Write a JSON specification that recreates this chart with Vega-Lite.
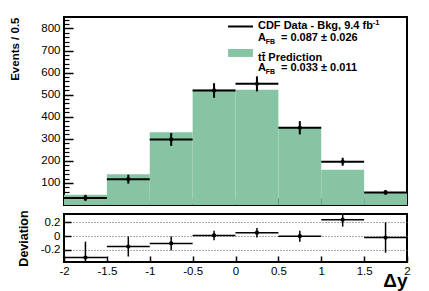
{
  "$schema": "https://vega.github.io/schema/vega-lite/v6.json",
  "background": "white",
  "padding": {"left": 8, "top": 15, "right": 18, "bottom": 3},
  "spacing": 1,
  "config": {
    "font": "Liberation Sans",
    "view": {"stroke": "black", "strokeWidth": 2},
    "axis": {"domain": false, "grid": false, "tickColor": "black", "labelColor": "black", "titleColor": "black", "labelFont": "Liberation Sans", "labelFontSize": 11.5, "titleFont": "Liberation Sans", "titleFontWeight": "bold", "tickWidth": 1.5, "labelOverlap": false, "tickCount": 100}
  },
  "datasets": {
    "hist": [
      {"lo": -2, "hi": -1.5, "mid": -1.75, "pred": 46, "obs": 32, "err": 14},
      {"lo": -1.5, "hi": -1, "mid": -1.25, "pred": 139, "obs": 117, "err": 20},
      {"lo": -1, "hi": -0.5, "mid": -0.75, "pred": 330, "obs": 297, "err": 29},
      {"lo": -0.5, "hi": 0, "mid": -0.25, "pred": 523, "obs": 519, "err": 33},
      {"lo": 0, "hi": 0.5, "mid": 0.25, "pred": 522, "obs": 549, "err": 34},
      {"lo": 0.5, "hi": 1, "mid": 0.75, "pred": 352, "obs": 350, "err": 30},
      {"lo": 1, "hi": 1.5, "mid": 1.25, "pred": 160, "obs": 196, "err": 18},
      {"lo": 1.5, "hi": 2, "mid": 1.75, "pred": 58, "obs": 57, "err": 11}
    ],
    "dev": [
      {"lo": -2, "hi": -1.5, "mid": -1.75, "dev": -0.31, "err": 0.23},
      {"lo": -1.5, "hi": -1, "mid": -1.25, "dev": -0.15, "err": 0.145},
      {"lo": -1, "hi": -0.5, "mid": -0.75, "dev": -0.105, "err": 0.1},
      {"lo": -0.5, "hi": 0, "mid": -0.25, "dev": 0.01, "err": 0.068},
      {"lo": 0, "hi": 0.5, "mid": 0.25, "dev": 0.05, "err": 0.068},
      {"lo": 0.5, "hi": 1, "mid": 0.75, "dev": 0.0, "err": 0.08},
      {"lo": 1, "hi": 1.5, "mid": 1.25, "dev": 0.24, "err": 0.1},
      {"lo": 1.5, "hi": 2, "mid": 1.75, "dev": -0.02, "err": 0.22}
    ]
  },
  "vconcat": [
    {
      "width": 343,
      "height": 188,
      "resolve": {"scale": {"y": "independent"}, "axis": {"y": "independent"}},
      "layer": [
        {
          "data": {"name": "hist"},
          "mark": {"type": "rule", "opacity": 0},
          "encoding": {
            "x": {"field": "lo", "type": "quantitative", "title": null, "scale": {"domain": [-2, 2], "nice": false, "zero": false},
              "axis": {"labels": false, "tickSize": -7, "tickCount": 100, "values": [-1.5, -1, -0.5, 0, 0.5, 1, 1.5]}},
            "y": {"field": "pred", "type": "quantitative", "title": null, "scale": {"domain": [0, 852], "nice": false},
              "axis": {"orient": "left", "labels": false, "tickSize": -5, "tickWidth": 1.2, "tickCount": 100,
                "values": [20, 40, 60, 80, 120, 140, 160, 180, 220, 240, 260, 280, 320, 340, 360, 380, 420, 440, 460, 480, 520, 540, 560, 580, 620, 640, 660, 680, 720, 740, 760, 780, 820, 840]}}
          }
        },
        {
          "layer": [
            {
              "data": {"name": "hist"},
              "mark": {"type": "rect", "color": "#86c4a4"},
              "encoding": {
                "x": {"field": "lo", "type": "quantitative", "title": null},
                "x2": {"field": "hi"},
                "y": {"field": "pred", "type": "quantitative", "title": "Events / 0.5", "scale": {"domain": [0, 852], "nice": false},
                  "axis": {"orient": "left", "titleFontSize": 11.5, "titleAnchor": "end", "titlePadding": 20, "tickCount": 100,
                    "values": [100, 200, 300, 400, 500, 600, 700, 800], "labelOverlap": false,
                    "labelExpr": "'' + datum.value", "tickSize": -9, "labelPadding": 13}},
                "y2": {"datum": 0}
              }
            },
            {
              "data": {"name": "hist"},
              "mark": {"type": "rule", "color": "black", "strokeWidth": 2},
              "encoding": {
                "x": {"field": "lo", "type": "quantitative", "title": null},
                "x2": {"field": "hi"},
                "y": {"field": "obs", "type": "quantitative", "title": "Events / 0.5"}
              }
            },
            {
              "data": {"name": "hist"},
              "mark": {"type": "errorbar", "color": "black", "thickness": 2},
              "encoding": {
                "x": {"field": "mid", "type": "quantitative", "title": null},
                "y": {"field": "obs", "type": "quantitative", "title": "Events / 0.5"},
                "yError": {"field": "err"}
              }
            },
            {
              "data": {"name": "hist"},
              "mark": {"type": "point", "filled": true, "color": "black", "size": 18, "opacity": 1},
              "encoding": {
                "x": {"field": "mid", "type": "quantitative", "title": null},
                "y": {"field": "obs", "type": "quantitative", "title": "Events / 0.5"}
              }
            },
            {
              "data": {"values": [{"k": "line"}]},
              "mark": {"type": "rule", "color": "black", "strokeWidth": 2},
              "encoding": {
                "x": {"datum": -0.087, "type": "quantitative", "title": null},
                "x2": {"datum": 0.204},
                "y": {"datum": 809, "type": "quantitative", "title": "Events / 0.5"}
              }
            },
            {
              "data": {"values": [{"k": "box"}]},
              "mark": {"type": "rect", "color": "#86c4a4"},
              "encoding": {
                "x": {"datum": -0.087, "type": "quantitative", "title": null},
                "x2": {"datum": 0.204},
                "y": {"datum": 707, "type": "quantitative", "title": "Events / 0.5"},
                "y2": {"datum": 671}
              }
            },
            {
              "data": {"values": [{"t": "CDF Data - Bkg, 9.4  fb", "u": 809}, {"t": "t\u0074\u0304 Prediction", "u": 668}]},
              "mark": {"type": "text", "align": "left", "baseline": "middle", "fontWeight": "bold", "fontSize": 11, "color": "black"},
              "encoding": {
                "x": {"datum": 0.262, "type": "quantitative", "title": null},
                "y": {"field": "u", "type": "quantitative", "title": "Events / 0.5"},
                "text": {"field": "t"}
              }
            },
            {
              "data": {"values": [{"t": "-1"}]},
              "mark": {"type": "text", "align": "left", "baseline": "middle", "fontWeight": "bold", "fontSize": 7.5, "color": "black"},
              "encoding": {
                "x": {"datum": 1.6, "type": "quantitative", "title": null},
                "y": {"datum": 827, "type": "quantitative", "title": "Events / 0.5"},
                "text": {"field": "t"}
              }
            },
            {
              "data": {"values": [{"t": "A", "u": 755}, {"t": "A", "u": 619}]},
              "mark": {"type": "text", "align": "left", "baseline": "middle", "fontWeight": "bold", "fontSize": 11, "color": "black"},
              "encoding": {
                "x": {"datum": 0.262, "type": "quantitative", "title": null},
                "y": {"field": "u", "type": "quantitative", "title": "Events / 0.5"},
                "text": {"field": "t"}
              }
            },
            {
              "data": {"values": [{"t": "FB", "u": 737}, {"t": "FB", "u": 601}]},
              "mark": {"type": "text", "align": "left", "baseline": "middle", "fontWeight": "bold", "fontSize": 7, "color": "black"},
              "encoding": {
                "x": {"datum": 0.352, "type": "quantitative", "title": null},
                "y": {"field": "u", "type": "quantitative", "title": "Events / 0.5"},
                "text": {"field": "t"}
              }
            },
            {
              "data": {"values": [{"t": "= 0.087 \u00b1 0.026", "u": 755}, {"t": "= 0.033 \u00b1 0.011", "u": 619}]},
              "mark": {"type": "text", "align": "left", "baseline": "middle", "fontWeight": "bold", "fontSize": 11, "color": "black"},
              "encoding": {
                "x": {"datum": 0.53, "type": "quantitative", "title": null},
                "y": {"field": "u", "type": "quantitative", "title": "Events / 0.5"},
                "text": {"field": "t"}
              }
            }
          ]
        }
      ]
    },
    {
      "width": 343,
      "height": 48,
      "data": {"name": "dev"},
      "layer": [
        {
          "mark": {"type": "rule", "color": "black", "strokeWidth": 1.5, "clip": true},
          "encoding": {
            "x": {"field": "lo", "type": "quantitative", "title": "\u0394y", "scale": {"domain": [-2, 2], "nice": false, "zero": false},
              "axis": {"titleFontSize": 19, "titleAnchor": "end", "titlePadding": -5, "tickSize": -6, "labelOverlap": false, "tickCount": 100,
                "values": [-2, -1.5, -1, -0.5, 0, 0.5, 1, 1.5, 2], "labelExpr": "'' + datum.value", "labelPadding": 9, "labelFlush": false}},
            "x2": {"field": "hi"},
            "y": {"field": "dev", "type": "quantitative", "title": "Deviation", "scale": {"domain": [-0.375, 0.322], "nice": false, "zero": false},
              "axis": {"titleFontSize": 12.5, "titlePadding": 10, "values": [-0.2, 0, 0.2], "labelOverlap": false, "tickCount": 100,
                "labelExpr": "'' + datum.value", "tickSize": -7, "labelPadding": 11,
                "grid": true, "gridDash": [1, 2], "gridColor": "#555", "gridWidth": 1}}
          }
        },
        {
          "mark": {"type": "errorbar", "color": "black", "thickness": 1.5, "clip": true},
          "encoding": {
            "x": {"field": "mid", "type": "quantitative", "title": "\u0394y"},
            "y": {"field": "dev", "type": "quantitative", "title": "Deviation"},
            "yError": {"field": "err"}
          }
        },
        {
          "mark": {"type": "point", "filled": true, "color": "black", "size": 18, "opacity": 1, "clip": true},
          "encoding": {
            "x": {"field": "mid", "type": "quantitative", "title": "\u0394y"},
            "y": {"field": "dev", "type": "quantitative", "title": "Deviation"}
          }
        }
      ]
    }
  ]
}
